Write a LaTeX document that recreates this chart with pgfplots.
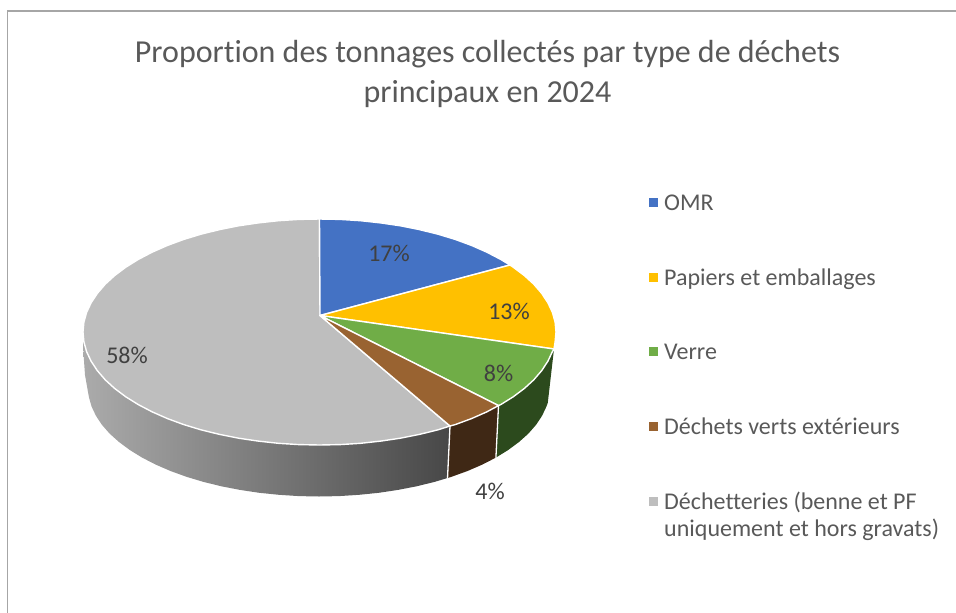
\documentclass[border=0pt]{standalone}
\usepackage{fontspec}
\setmainfont[Ligatures=NoCommon]{Carlito}
\usepackage{pgfplots}
\pgfplotsset{compat=1.18}
\definecolor{cblue}{HTML}{4472C4}
\definecolor{cyellow}{HTML}{FFC000}
\definecolor{cgreen}{HTML}{70AD47}
\definecolor{cbrown}{HTML}{996331}
\definecolor{cgray}{HTML}{BEBEBE}
\definecolor{dgreen}{HTML}{2C4A1D}
\definecolor{dbrown}{HTML}{3F2815}
\definecolor{txt}{HTML}{595959}
\definecolor{lab}{HTML}{404040}
\definecolor{frame}{HTML}{A6A6A6}
\begin{document}
\begin{tikzpicture}
\begin{axis}[
  hide axis, scale only axis, width=956pt, height=613pt,
  xmin=0, xmax=956, ymin=0, ymax=613, y dir=reverse,
  clip=true,
  every axis plot/.append style={mark=none},
]
% frame
\addplot[frame, line width=1.5pt] coordinates {(7.5,613)(7.5,11)(956,11)};
% side walls
\addplot[fill=dgreen, draw=none] coordinates {
(554,349)(552.4,351.6)(547.9,361.2)(541.7,370.6)(533.8,379.8)(524.3,388.5)(513.2,396.8)(500.7,404.6)(498.5,405.6)
(495.9,457.6)(508.2,450)(519,442)(528.4,433.6)(536.1,424.8)(542.1,415.7)(546.5,406.4)(547.8,402.7)} -- cycle;
\addplot[fill=dbrown, draw=none] coordinates {
(498.5,405.6)(486.7,411.9)(471.5,418.6)(455.2,424.6)(450,426)
(447.5,478)(451.5,476.8)(467.5,471)(482.3,464.6)(495.9,457.6)} -- cycle;
\addplot[shade, left color=black!33, middle color=black!54, right color=black!72, draw=none] coordinates {
(450,426)(437.75,429.9)(419.4,434.4)(400.4,438.2)(380.7,441.1)(360.6,443.3)(340.1,444.6)(319.5,445)(298.9,444.6)(278.4,443.3)(258.3,441.1)(238.6,438.2)(219.6,434.4)(201.25,429.9)(183.8,424.6)(167.5,418.6)(152.3,411.9)(138.3,404.6)(125.8,396.8)(114.7,388.5)(105.2,379.8)(97.3,370.6)(91.1,361.2)(86.6,351.6)(83.9,341.9)(83,332)
(83.6,355)(85,375)(88.9,397)(91.5,406.4)(95.9,415.7)(101.9,424.8)(109.6,433.6)(119,442)(129.8,450)(142.1,457.6)(155.7,464.6)(170.5,471)(186.5,476.8)(203.5,481.9)(221.4,486.3)(240,489.9)(259.2,492.8)(278.9,494.8)(298.9,496.1)(319,496.5)(339.1,496.1)(359.1,494.8)(378.8,492.8)(398,489.9)(416.6,486.3)(434.5,481.9)(447.5,478)} -- cycle;
% wall separators
\addplot[white, line width=1.3pt] coordinates {(450,426)(447.5,478.5)};
\addplot[white, line width=1.3pt] coordinates {(498.5,405.6)(495.9,458)};
% top slices
\addplot[fill=cgray, draw=white, line width=1.4pt, line join=round] coordinates {
(320,315.5)(450,426)(437.75,429.9)(419.4,434.4)(400.4,438.2)(380.7,441.1)(360.6,443.3)(340.1,444.6)(319.5,445)(298.9,444.6)(278.4,443.3)(258.3,441.1)(238.6,438.2)(219.6,434.4)(201.25,429.9)(183.8,424.6)(167.5,418.6)(152.3,411.9)(138.3,404.6)(125.8,396.8)(114.7,388.5)(105.2,379.8)(97.3,370.6)(91.1,361.2)(86.6,351.6)(83.9,341.9)(83,332)(83.9,322.1)(86.6,312.4)(91.1,302.8)(97.3,293.4)(105.2,284.2)(114.7,275.5)(125.8,267.2)(138.3,259.4)(152.3,252.1)(167.5,245.4)(183.8,239.4)(201.25,234.1)(219.6,229.6)(238.6,225.8)(258.3,222.9)(278.4,220.7)(298.9,219.4)(319.5,219)} -- cycle;
\addplot[fill=cblue, draw=white, line width=1.4pt, line join=round] coordinates {
(320,315.5)(319.5,219)(340.1,219.4)(360.6,220.7)(380.7,222.9)(400.4,225.8)(419.4,229.6)(437.75,234.1)(455.2,239.4)(471.5,245.4)(486.7,252.1)(500.7,259.4)(510,265)} -- cycle;
\addplot[fill=cyellow, draw=white, line width=1.4pt, line join=round] coordinates {
(320,315.5)(510,265)(513.2,267.2)(524.3,275.5)(533.8,284.2)(541.7,293.4)(547.9,302.8)(552.4,312.4)(555.1,322.1)(556,332)(555.1,341.9)(554,349)} -- cycle;
\addplot[fill=cgreen, draw=white, line width=1.4pt, line join=round] coordinates {
(320,315.5)(554,349)(552.4,351.6)(547.9,361.2)(541.7,370.6)(533.8,379.8)(524.3,388.5)(513.2,396.8)(500.7,404.6)(498.5,405.6)} -- cycle;
\addplot[fill=cbrown, draw=white, line width=1.4pt, line join=round] coordinates {
(320,315.5)(498.5,405.6)(486.7,411.9)(471.5,418.6)(455.2,424.6)(450,426)} -- cycle;
% legend keys
\addplot[only marks, mark=square*, mark size=4pt, mark options={draw=cblue, fill=cblue, line width=0pt}] coordinates {(653.5,202.5)};
\addplot[only marks, mark=square*, mark size=4pt, mark options={draw=cyellow, fill=cyellow, line width=0pt}] coordinates {(653.5,277)};
\addplot[only marks, mark=square*, mark size=4pt, mark options={draw=cgreen, fill=cgreen, line width=0pt}] coordinates {(653.5,351.5)};
\addplot[only marks, mark=square*, mark size=4pt, mark options={draw=cbrown, fill=cbrown, line width=0pt}] coordinates {(653.5,426)};
\addplot[only marks, mark=square*, mark size=4pt, mark options={draw=cgray, fill=cgray, line width=0pt}] coordinates {(653.5,501)};
% title
\node[anchor=base, text=txt, font=\fontsize{32}{32}\selectfont] at (axis cs:487.5,62) {Proportion des tonnages collectés par type de déchets};
\node[anchor=base, text=txt, font=\fontsize{32}{32}\selectfont] at (axis cs:487.5,102) {principaux en 2024};
% legend text
\foreach \t/\y in {OMR/210, Papiers et emballages/285, Verre/359.5, Déchets verts extérieurs/434, Déchetteries (benne et PF/509, uniquement et hors gravats)/536}
  {\edef\tmp{\noexpand\node[anchor=base west, inner sep=0pt, text=txt, font=\noexpand\fontsize{24}{24}\noexpand\selectfont] at (axis cs:664,\y) {\t};}\tmp}
% data labels
\foreach \t/\x/\y in {17\%/389/253, 13\%/509/311, 8\%/498.5/373, 4\%/490/491, 58\%/127/355}
  {\edef\tmp{\noexpand\node[text=lab, font=\noexpand\fontsize{24}{24}\noexpand\selectfont] at (axis cs:\x,\y) {\t};}\tmp}
\end{axis}
\pgfresetboundingbox
\path[use as bounding box] (0,0) rectangle (956pt,613pt);
\end{tikzpicture}
\end{document}
